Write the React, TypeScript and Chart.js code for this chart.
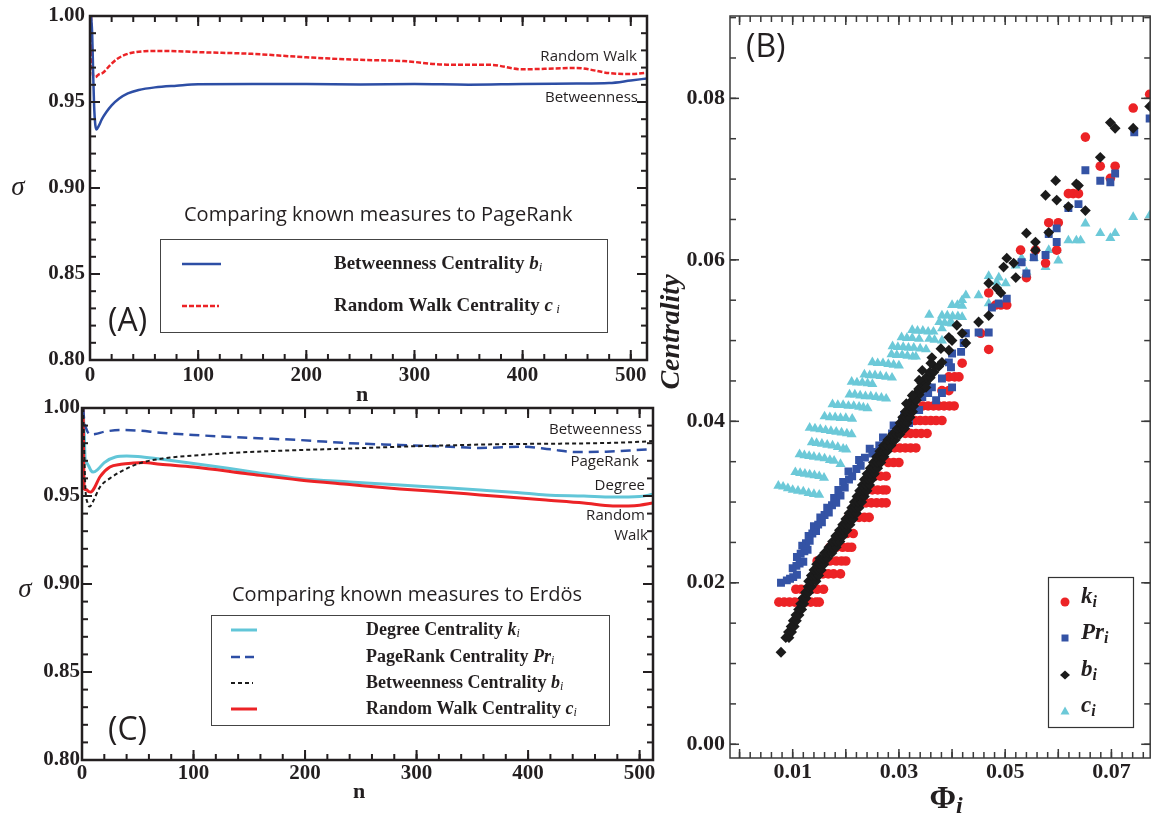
import React, { useEffect, useRef } from "react";
import { Chart, registerables } from "chart.js";
Chart.register(...registerables);

// ---------------- Panel A data (PageRank comparison) ----------------
const A_BTW_N = [1, 2, 3, 4, 6, 8, 11, 15, 20, 27, 35, 45, 60, 80, 100, 150, 200, 250, 300, 350, 400, 450, 480, 500, 515];
const A_BTW_S = [1.0, 0.99, 0.965, 0.945, 0.934, 0.936, 0.94, 0.944, 0.948, 0.952, 0.955, 0.957, 0.9585, 0.9595, 0.9603, 0.9604, 0.9604, 0.9602, 0.9604, 0.9601, 0.9605, 0.9607, 0.961, 0.9625, 0.9637];
const A_RW_N = [1, 2, 3, 5, 8, 12, 18, 25, 35, 50, 70, 100, 150, 200, 250, 290, 330, 370, 400, 430, 450, 480, 500, 515];
const A_RW_S = [1.0, 0.975, 0.965, 0.9645, 0.966, 0.967, 0.971, 0.975, 0.978, 0.9795, 0.9797, 0.979, 0.978, 0.976, 0.9745, 0.9738, 0.9717, 0.9716, 0.969, 0.9695, 0.9698, 0.9668, 0.9663, 0.967];

// ---------------- Panel C data (Erdös comparison) ----------------
const C_DEG_N = [1, 2, 3, 4, 6, 8, 10, 14, 20, 30, 40, 50, 70, 100, 150, 195, 240, 285, 330, 357, 390, 416, 450, 476, 500, 512];
const C_DEG_S = [1.0, 0.985, 0.9695, 0.969, 0.967, 0.9645, 0.9636, 0.965, 0.969, 0.9722, 0.9727, 0.9725, 0.971, 0.9685, 0.964, 0.96, 0.958, 0.9562, 0.9545, 0.9534, 0.952, 0.9506, 0.95, 0.9494, 0.9497, 0.951];
const C_PR_N = [1, 2, 4, 7, 12, 20, 34, 50, 70, 100, 150, 195, 240, 285, 330, 357, 395, 420, 443, 470, 495, 512];
const C_PR_S = [1.0, 0.993, 0.988, 0.985, 0.9852, 0.9865, 0.9875, 0.9872, 0.986, 0.9847, 0.983, 0.9818, 0.98, 0.979, 0.978, 0.9773, 0.978, 0.9765, 0.975, 0.9752, 0.976, 0.9767];
const C_BTW_N = [1, 2, 3, 5, 7, 10, 16, 25, 34, 52, 75, 106, 150, 195, 240, 285, 330, 380, 420, 460, 490, 512];
const C_BTW_S = [1.0, 0.975, 0.955, 0.946, 0.944, 0.947, 0.955, 0.96, 0.9636, 0.9687, 0.9715, 0.9733, 0.975, 0.9761, 0.977, 0.978, 0.9788, 0.9795, 0.9797, 0.98, 0.9805, 0.9812];
const C_RW_N = [1, 2, 4, 6, 8, 11, 16, 25, 35, 46, 55, 70, 100, 150, 195, 240, 285, 330, 357, 390, 416, 450, 476, 500, 512];
const C_RW_S = [1.0, 0.954, 0.9535, 0.9525, 0.9523, 0.9545, 0.9608, 0.9665, 0.968, 0.9687, 0.969, 0.968, 0.9665, 0.9625, 0.9591, 0.9565, 0.954, 0.952, 0.9506, 0.949, 0.9477, 0.946, 0.9443, 0.9448, 0.946];

// ---------------- Panel B data (Phi_i vs centrality) ----------------
const K_PTS: number[][] = [
  [0.0074, 0.0176], [0.0084, 0.0176], [0.0094, 0.0176], [0.0104, 0.0176], [0.0114, 0.0176], [0.0124, 0.0176], [0.0134, 0.0176], [0.0144, 0.0176], [0.015, 0.0176],
  [0.0106, 0.0192], [0.0116, 0.0192], [0.0126, 0.0192], [0.0136, 0.0192], [0.0146, 0.0192], [0.0158, 0.0192],
  [0.0157, 0.0211], [0.0167, 0.0211], [0.0177, 0.0211], [0.019, 0.0211],
  [0.0146, 0.0227], [0.0158, 0.0227], [0.017, 0.0227], [0.0182, 0.0227], [0.0192, 0.0227], [0.02, 0.0227],
  [0.017, 0.0244], [0.0182, 0.0244], [0.0194, 0.0244], [0.0204, 0.0244], [0.0211, 0.0244],
  [0.019, 0.0261], [0.0202, 0.0261], [0.0214, 0.0261],
  [0.0205, 0.0281], [0.0215, 0.0281], [0.0225, 0.0281], [0.0235, 0.0281], [0.0244, 0.0281],
  [0.0228, 0.0299], [0.0238, 0.0299], [0.0248, 0.0299], [0.0258, 0.0299], [0.0268, 0.0299], [0.0276, 0.0299],
  [0.024, 0.0315], [0.025, 0.0315], [0.026, 0.0315], [0.027, 0.0315], [0.0276, 0.0315],
  [0.0255, 0.0332], [0.0265, 0.0332], [0.0276, 0.0332],
  [0.028, 0.0349], [0.029, 0.0349], [0.03, 0.0349],
  [0.0282, 0.0367], [0.0292, 0.0367], [0.0302, 0.0367], [0.0312, 0.0367], [0.0322, 0.0367], [0.0332, 0.0367],
  [0.0312, 0.0385], [0.0322, 0.0385], [0.0332, 0.0385], [0.0342, 0.0385], [0.0353, 0.0385],
  [0.033, 0.0401], [0.034, 0.0401], [0.035, 0.0401], [0.036, 0.0401], [0.037, 0.0401], [0.0381, 0.0401],
  [0.0345, 0.0419], [0.0355, 0.0419], [0.0365, 0.0419], [0.0375, 0.0419], [0.0385, 0.0419], [0.0395, 0.0419], [0.0404, 0.0419],
  [0.0381, 0.0438], [0.0394, 0.0438], [0.0394, 0.0455], [0.0405, 0.0455], [0.0413, 0.0455], [0.0419, 0.0472],
  [0.0469, 0.0489], [0.0454, 0.0509], [0.0482, 0.0544], [0.0492, 0.0544], [0.0503, 0.0544], [0.0469, 0.0559],
  [0.054, 0.0578], [0.0576, 0.0596], [0.0529, 0.0612], [0.0557, 0.0612], [0.0597, 0.0612],
  [0.0582, 0.0646], [0.06, 0.0646], [0.0619, 0.0682], [0.0628, 0.0682], [0.0638, 0.0682],
  [0.0679, 0.0716], [0.0707, 0.0716], [0.0698, 0.0701], [0.0651, 0.0752], [0.0741, 0.0788], [0.0772, 0.0805],
];
const PR_PTS: number[][] = [
  [0.0078, 0.02], [0.0089, 0.0203], [0.0095, 0.0205], [0.0101, 0.0207], [0.0108, 0.021],
  [0.01, 0.0218], [0.0107, 0.0221], [0.0113, 0.0224], [0.012, 0.0226],
  [0.0108, 0.0232], [0.0115, 0.0236], [0.0122, 0.0239], [0.0128, 0.0241],
  [0.0118, 0.0246], [0.0125, 0.0249], [0.0132, 0.0252], [0.013, 0.0258], [0.0137, 0.0261], [0.0144, 0.0264],
  [0.014, 0.027], [0.0148, 0.0272], [0.0155, 0.0275], [0.0152, 0.0281], [0.016, 0.0284], [0.0168, 0.0287],
  [0.0165, 0.0293], [0.0174, 0.0296], [0.0182, 0.0299], [0.0178, 0.0305], [0.019, 0.0308],
  [0.0186, 0.0315], [0.0198, 0.0318], [0.0195, 0.0325], [0.0206, 0.0328], [0.0212, 0.0332],
  [0.0205, 0.0338], [0.022, 0.0341], [0.0228, 0.0345], [0.0225, 0.0352], [0.0236, 0.0355],
  [0.025, 0.036], [0.0258, 0.0362], [0.0245, 0.0366], [0.0263, 0.037], [0.0276, 0.0372],
  [0.027, 0.038], [0.0287, 0.0385], [0.03, 0.0388], [0.029, 0.0395], [0.0306, 0.04], [0.0319, 0.0398],
  [0.031, 0.0408], [0.0338, 0.0414], [0.0325, 0.042], [0.0344, 0.043], [0.037, 0.0426],
  [0.0355, 0.0435], [0.0381, 0.0435], [0.0362, 0.0442], [0.04, 0.0442], [0.0381, 0.0453],
  [0.0398, 0.0467], [0.0394, 0.0473], [0.04, 0.0484], [0.0417, 0.0486], [0.0422, 0.0497], [0.0426, 0.0509],
  [0.045, 0.051], [0.0469, 0.051], [0.0475, 0.0541], [0.0488, 0.0546], [0.0503, 0.0552],
  [0.0531, 0.0597], [0.054, 0.0583], [0.0554, 0.0603], [0.0576, 0.0606], [0.0597, 0.0622], [0.0597, 0.0639],
  [0.0582, 0.0632], [0.0619, 0.0664], [0.0638, 0.0669], [0.0651, 0.0711], [0.0679, 0.0698], [0.0698, 0.0696],
  [0.0707, 0.0707], [0.0743, 0.0758], [0.0772, 0.0775],
];
const B_PTS: number[][] = [
  [0.0078, 0.0114],
  [0.0087, 0.0132], [0.0093, 0.0132], [0.0092, 0.0139], [0.0098, 0.0139], [0.0097, 0.0146], [0.0103, 0.0146],
  [0.0101, 0.0153], [0.0107, 0.0153], [0.0106, 0.016], [0.0112, 0.016], [0.0111, 0.0167], [0.0117, 0.0167],
  [0.0115, 0.0174], [0.0121, 0.0174], [0.0119, 0.0181], [0.0125, 0.0181], [0.0124, 0.0188], [0.013, 0.0188],
  [0.0129, 0.0195], [0.0135, 0.0195],
  [0.013, 0.0202], [0.0137, 0.0202], [0.0144, 0.0202], [0.0135, 0.0209], [0.0142, 0.0209], [0.0149, 0.0209],
  [0.014, 0.0216], [0.0147, 0.0216], [0.0154, 0.0216], [0.0145, 0.0223], [0.0152, 0.0223], [0.0159, 0.0223],
  [0.0151, 0.023], [0.0158, 0.023], [0.0165, 0.023], [0.016, 0.0237], [0.0167, 0.0237], [0.0174, 0.0237],
  [0.0168, 0.0244], [0.0175, 0.0244], [0.0182, 0.0244], [0.0175, 0.0251], [0.0182, 0.0251], [0.0189, 0.0251],
  [0.0181, 0.0258], [0.0188, 0.0258], [0.0195, 0.0258], [0.0188, 0.0265], [0.0195, 0.0265], [0.0202, 0.0265],
  [0.0194, 0.0272], [0.0201, 0.0272], [0.0208, 0.0272], [0.02, 0.0279], [0.0207, 0.0279], [0.0214, 0.0279],
  [0.0206, 0.0286], [0.0213, 0.0286], [0.022, 0.0286], [0.0211, 0.0293], [0.0218, 0.0293], [0.0225, 0.0293],
  [0.0216, 0.03], [0.0223, 0.03], [0.023, 0.03], [0.0221, 0.0307], [0.0228, 0.0307], [0.0235, 0.0307],
  [0.0226, 0.0314], [0.0233, 0.0314], [0.024, 0.0314], [0.0231, 0.0321], [0.0238, 0.0321], [0.0245, 0.0321],
  [0.0235, 0.0328], [0.0242, 0.0328], [0.0249, 0.0328], [0.024, 0.0335], [0.0247, 0.0335], [0.0254, 0.0335],
  [0.0246, 0.0342], [0.0253, 0.0342], [0.026, 0.0342], [0.0252, 0.0349], [0.0259, 0.0349], [0.0266, 0.0349],
  [0.0258, 0.0356], [0.0265, 0.0356], [0.0272, 0.0356], [0.0264, 0.0363], [0.0271, 0.0363], [0.0278, 0.0363],
  [0.0271, 0.037], [0.0278, 0.037], [0.0285, 0.037], [0.0279, 0.0377], [0.0286, 0.0377], [0.0293, 0.0377],
  [0.0288, 0.0384], [0.0295, 0.0384], [0.0302, 0.0384], [0.0297, 0.0391], [0.0304, 0.0391], [0.0311, 0.0391],
  [0.0302, 0.0398], [0.0309, 0.0398], [0.0316, 0.0398], [0.0307, 0.0405], [0.0314, 0.0405], [0.0321, 0.0405],
  [0.0312, 0.0412], [0.0319, 0.0412], [0.0326, 0.0412], [0.032, 0.0419], [0.0328, 0.0419],
  [0.0325, 0.0426], [0.0333, 0.0426], [0.033, 0.0433], [0.0338, 0.0433], [0.0337, 0.044], [0.0345, 0.044],
  [0.0343, 0.0447], [0.0351, 0.0447], [0.0351, 0.0454], [0.0359, 0.0454], [0.0358, 0.0461], [0.0366, 0.0461],
  [0.0367, 0.0468], [0.0375, 0.0468],
  [0.0314, 0.0422], [0.0332, 0.0426], [0.0325, 0.0432], [0.0351, 0.0442], [0.0338, 0.0451], [0.0344, 0.0463],
  [0.036, 0.0472], [0.0362, 0.0479], [0.0381, 0.0473], [0.0379, 0.049], [0.0394, 0.0488], [0.0394, 0.0504],
  [0.0426, 0.0497], [0.0409, 0.0519], [0.0419, 0.0509], [0.04, 0.05], [0.045, 0.0523], [0.0469, 0.0531],
  [0.0469, 0.0571], [0.0484, 0.0565], [0.0492, 0.0559], [0.0497, 0.0591], [0.0503, 0.0602], [0.0516, 0.0596],
  [0.052, 0.0578], [0.054, 0.0633], [0.0557, 0.0622], [0.0557, 0.0612], [0.0582, 0.0634], [0.0576, 0.068],
  [0.0595, 0.0698], [0.0597, 0.0674], [0.0619, 0.0666], [0.0634, 0.0694], [0.0638, 0.0692], [0.0651, 0.0661],
  [0.0679, 0.0727], [0.0698, 0.077], [0.0707, 0.0763], [0.0741, 0.0763], [0.0772, 0.079],
];
const C_PTS: number[][] = [
  [0.0073, 0.032], [0.0082, 0.0319], [0.0091, 0.0317], [0.01, 0.0315], [0.011, 0.0314], [0.012, 0.0313], [0.013, 0.0311], [0.014, 0.031], [0.015, 0.0309],
  [0.0105, 0.0337], [0.0114, 0.0336], [0.0123, 0.0335], [0.0132, 0.0334], [0.0141, 0.0333], [0.015, 0.0332], [0.0159, 0.033],
  [0.0113, 0.0359], [0.0122, 0.0358], [0.0131, 0.0357], [0.014, 0.0356], [0.015, 0.0355], [0.016, 0.0354], [0.017, 0.0352], [0.0178, 0.0351], [0.019, 0.0347],
  [0.0136, 0.0374], [0.0145, 0.0373], [0.0155, 0.0372], [0.0165, 0.0371], [0.0175, 0.037], [0.0185, 0.0368], [0.0195, 0.0366], [0.0201, 0.0365],
  [0.0132, 0.0392], [0.0142, 0.0391], [0.0152, 0.039], [0.0162, 0.0389], [0.0172, 0.0388], [0.0182, 0.0387], [0.0192, 0.0386], [0.0202, 0.0385], [0.0211, 0.0384],
  [0.016, 0.0406], [0.017, 0.0405], [0.018, 0.0405], [0.019, 0.0404], [0.02, 0.0404], [0.0212, 0.0403],
  [0.0175, 0.0421], [0.0185, 0.042], [0.0195, 0.042], [0.0205, 0.0419], [0.0215, 0.0419], [0.0225, 0.0418], [0.0233, 0.0417], [0.0241, 0.0416],
  [0.0207, 0.0433], [0.0217, 0.0433], [0.0227, 0.0432], [0.0237, 0.0431], [0.0247, 0.0431], [0.0257, 0.043], [0.0267, 0.0429], [0.0276, 0.0428],
  [0.0211, 0.0449], [0.0221, 0.0448], [0.0231, 0.0448], [0.0241, 0.0447], [0.025, 0.0446],
  [0.0235, 0.0458], [0.0245, 0.0457], [0.0255, 0.0457], [0.0265, 0.0456], [0.0276, 0.0455], [0.0287, 0.0454],
  [0.025, 0.0473], [0.026, 0.0472], [0.027, 0.0472], [0.028, 0.0471], [0.029, 0.047], [0.03, 0.0469],
  [0.0286, 0.0483], [0.0296, 0.0482], [0.0306, 0.0482], [0.0316, 0.0481], [0.0326, 0.048], [0.0332, 0.048],
  [0.0288, 0.0493], [0.0298, 0.0492], [0.0308, 0.0492], [0.0318, 0.0491], [0.0328, 0.0491], [0.034, 0.049], [0.0351, 0.0489],
  [0.0305, 0.0504], [0.0315, 0.0503], [0.0325, 0.0503], [0.0338, 0.0502], [0.0357, 0.0502], [0.0367, 0.0501], [0.0381, 0.05],
  [0.0325, 0.0513], [0.0335, 0.0512], [0.0345, 0.0512], [0.0355, 0.0511], [0.0365, 0.0511], [0.0381, 0.0515],
  [0.0376, 0.0523], [0.0386, 0.0522], [0.0396, 0.0522], [0.04, 0.0521],
  [0.0357, 0.0532], [0.0381, 0.0531], [0.0391, 0.0531], [0.0401, 0.053], [0.0411, 0.053], [0.0419, 0.0529],
  [0.04, 0.0544], [0.041, 0.0544], [0.0419, 0.0543], [0.0426, 0.0556],
  [0.045, 0.0556], [0.0419, 0.055], [0.0469, 0.058], [0.0488, 0.0578], [0.0469, 0.0546], [0.0484, 0.0572],
  [0.0501, 0.0571], [0.054, 0.0585], [0.052, 0.0593], [0.0531, 0.0602], [0.0554, 0.0602], [0.0576, 0.0591],
  [0.0582, 0.0612], [0.0597, 0.0612], [0.06, 0.0599], [0.0619, 0.0624], [0.0634, 0.0624], [0.0642, 0.0624],
  [0.0651, 0.0645], [0.0679, 0.0633], [0.0698, 0.0627], [0.0707, 0.0633], [0.0741, 0.0653], [0.0772, 0.0655],
];

// tick labels
const SIGMA_LABELS = [0.8, 0.85, 0.9, 0.95, 1.0];
const N_LABELS = [0, 100, 200, 300, 400, 500];
const PHI_LABELS = [0.01, 0.03, 0.05, 0.07];
const CENT_LABELS = [0.0, 0.02, 0.04, 0.06, 0.08];

const SERIF = '"Liberation Serif", "Times New Roman", serif';
const SANS = '"Open Sans", "Noto Sans", sans-serif';
const BLUE = "#2d4ea5";
const RED = "#ec2326";
const CYAN = "#62c6d8";
const BLACK = "#1b1b1b";
const INK = "#231f20";

const zip = (xs: number[], ys: number[]) => xs.map((x, i) => ({ x, y: ys[i] }));
const pairs = (p: number[][]) => p.map(([x, y]) => ({ x, y }));
const range = (a: number, b: number, s: number) => {
  const out: number[] = [];
  const n = Math.round((b - a) / s);
  for (let i = 0; i <= n; i++) out.push(+(a + i * s).toFixed(6));
  return out;
};

function axis(min: number, max: number, labels: number[], fmt: (v: number) => string, size: number, pad: number, fit: number, isX: boolean) {
  return {
    type: "linear",
    min,
    max,
    grid: { display: false, drawTicks: false },
    border: { display: false },
    ticks: {
      font: { family: SERIF, size, weight: "bold" },
      color: INK,
      padding: pad,
      autoSkip: false,
      maxRotation: 0,
      minRotation: 0,
      callback: (v: any) => fmt(Number(v)),
    },
    afterBuildTicks: (s: any) => {
      s.ticks = labels.map((v) => ({ value: v }));
    },
    afterFit: (s: any) => {
      if (isX) s.height = fit;
      else s.width = fit;
      s.paddingLeft = 0;
      s.paddingRight = 0;
      s.paddingTop = 0;
      s.paddingBottom = 0;
    },
  };
}

type FrameOpts = {
  xMajor: number[]; xMinor: number[]; yMajor: number[]; yMinor: number[];
  majorLen: number; minorLen: number; color: string; width: number; tickWidth: number;
};
function framePlugin(o: FrameOpts) {
  return {
    id: "frameTicks",
    afterDraw(chart: any) {
      const ctx = chart.ctx as CanvasRenderingContext2D;
      const a = chart.chartArea;
      const xs = chart.scales.x, ys = chart.scales.y;
      ctx.save();
      ctx.setLineDash([]);
      ctx.fillStyle = o.color;
      const tw = o.tickWidth;
      const doX = (vals: number[], len: number) => {
        for (const v of vals) {
          const p = xs.getPixelForValue(v);
          ctx.fillRect(p - tw / 2, a.bottom - len, tw, len);
          ctx.fillRect(p - tw / 2, a.top, tw, len);
        }
      };
      const doY = (vals: number[], len: number) => {
        for (const v of vals) {
          const p = ys.getPixelForValue(v);
          ctx.fillRect(a.left, p - tw / 2, len, tw);
          ctx.fillRect(a.right - len, p - tw / 2, len, tw);
        }
      };
      doX(o.xMinor, o.minorLen); doX(o.xMajor, o.majorLen);
      doY(o.yMinor, o.minorLen); doY(o.yMajor, o.majorLen);
      ctx.strokeStyle = o.color;
      ctx.lineWidth = o.width;
      ctx.strokeRect(a.left, a.top, a.width, a.height);
      ctx.restore();
    },
  };
}

type Part = { t: string; f: string; dy?: number };
function rich(ctx: CanvasRenderingContext2D, x: number, y: number, parts: Part[], align: "left" | "right" | "center" = "left") {
  let w = 0;
  for (const p of parts) { ctx.font = p.f; w += ctx.measureText(p.t).width; }
  let cx = align === "left" ? x : align === "right" ? x - w : x - w / 2;
  ctx.textAlign = "left";
  ctx.textBaseline = "middle";
  for (const p of parts) {
    ctx.font = p.f;
    ctx.fillText(p.t, cx, y + (p.dy || 0));
    cx += ctx.measureText(p.t).width;
  }
}

function annot(ox: number, oy: number, draw: (ctx: CanvasRenderingContext2D) => void) {
  return {
    id: "annotText",
    afterDraw(chart: any) {
      const ctx = chart.ctx as CanvasRenderingContext2D;
      ctx.save();
      ctx.translate(-ox, -oy);
      ctx.fillStyle = INK;
      draw(ctx);
      ctx.restore();
    },
  };
}

function seg(ctx: CanvasRenderingContext2D, x1: number, x2: number, y: number, color: string, w: number, dash: number[]) {
  ctx.save();
  ctx.strokeStyle = color; ctx.lineWidth = w; ctx.setLineDash(dash);
  ctx.beginPath(); ctx.moveTo(x1, y); ctx.lineTo(x2, y); ctx.stroke();
  ctx.restore();
}

const bold = (s: number) => `bold ${s}px ${SERIF}`;
const boldIt = (s: number) => `italic bold ${s}px ${SERIF}`;
const it = (s: number) => `italic ${s}px ${SERIF}`;
const sans = (s: number) => `${s}px ${SANS}`;

const lineDs = (data: any[], color: string, w: number, dash: number[]) => ({
  data, borderColor: color, borderWidth: w, borderDash: dash, pointRadius: 0,
  cubicInterpolationMode: "monotone", fill: false,
});

const sigmaFrame = () => framePlugin({
  xMajor: N_LABELS, xMinor: range(20, 500, 20), yMajor: SIGMA_LABELS, yMinor: range(0.8, 1.0, 0.01),
  majorLen: 10, minorLen: 6, color: INK, width: 2.5, tickWidth: 2,
});

function cfgA() {
  return {
    type: "line",
    data: { datasets: [
      lineDs(zip(A_BTW_N, A_BTW_S), BLUE, 2.5, []),
      lineDs(zip(A_RW_N, A_RW_S), RED, 2.5, [5, 2]),
    ] },
    options: {
      responsive: false, animation: false, events: [],
      layout: { padding: { top: 16, right: 13, left: 0, bottom: 0 } },
      plugins: { legend: { display: false }, tooltip: { enabled: false } },
      scales: {
        x: axis(0, 515, N_LABELS, (v) => String(v), 21, 3, 45, true),
        y: axis(0.8, 1.0, SIGMA_LABELS, (v) => v.toFixed(2), 21, 5, 90, false),
      },
    },
    plugins: [sigmaFrame(), annot(0, 0, (ctx) => {
      rich(ctx, 637, 57, [{ t: "Random Walk", f: sans(15) }], "right");
      rich(ctx, 638, 98, [{ t: "Betweenness", f: sans(15) }], "right");
      rich(ctx, 184, 215, [{ t: "Comparing known measures to PageRank", f: sans(20) }]);
      ctx.save(); ctx.strokeStyle = "#444"; ctx.lineWidth = 1; ctx.strokeRect(160.5, 239.5, 447, 93); ctx.restore();
      seg(ctx, 182, 221, 264, BLUE, 2.5, []);
      seg(ctx, 182, 219, 306, RED, 2.5, [5, 2]);
      rich(ctx, 334, 264, [{ t: "Betweenness Centrality ", f: bold(19) }, { t: "b", f: boldIt(19) }, { t: "i", f: it(13), dy: 4 }]);
      rich(ctx, 334, 306, [{ t: "Random Walk Centrality ", f: bold(19) }, { t: "c", f: boldIt(19) }, { t: " i", f: it(13), dy: 4 }]);
      rich(ctx, 108, 322, [{ t: "(A)", f: sans(32) }]);
      rich(ctx, 18, 188, [{ t: "σ", f: it(27) }], "center");
      rich(ctx, 362, 395, [{ t: "n", f: bold(22) }], "center");
    })],
  };
}

// Panel C canvas starts at page y = 385
function cfgC() {
  return {
    type: "line",
    data: { datasets: [
      lineDs(zip(C_BTW_N, C_BTW_S), BLACK, 2, [4, 3]),
      lineDs(zip(C_PR_N, C_PR_S), BLUE, 2.5, [10, 6]),
      lineDs(zip(C_RW_N, C_RW_S), RED, 3, []),
      lineDs(zip(C_DEG_N, C_DEG_S), CYAN, 3, []),
    ] },
    options: {
      responsive: false, animation: false, events: [],
      layout: { padding: { top: 23, right: 7, left: 0, bottom: 0 } },
      plugins: { legend: { display: false }, tooltip: { enabled: false } },
      scales: {
        x: axis(0, 512, N_LABELS, (v) => String(v), 21, 1, 59, true),
        y: axis(0.8, 1.0, SIGMA_LABELS, (v) => v.toFixed(2), 21, 2, 82, false),
      },
    },
    plugins: [sigmaFrame(), annot(0, 385, (ctx) => {
      rich(ctx, 642, 430, [{ t: "Betweenness", f: sans(15) }], "right");
      rich(ctx, 639, 462, [{ t: "PageRank", f: sans(15) }], "right");
      rich(ctx, 645, 486, [{ t: "Degree", f: sans(15) }], "right");
      rich(ctx, 645, 516, [{ t: "Random", f: sans(15) }], "right");
      rich(ctx, 648, 536, [{ t: "Walk", f: sans(15) }], "right");
      rich(ctx, 232, 595, [{ t: "Comparing known measures to Erdös", f: sans(20) }]);
      ctx.save(); ctx.strokeStyle = "#444"; ctx.lineWidth = 1; ctx.strokeRect(211.5, 615.5, 398, 110); ctx.restore();
      seg(ctx, 231, 257, 630, CYAN, 3, []);
      seg(ctx, 231, 254, 657, BLUE, 2.5, [9, 5]);
      seg(ctx, 231, 253, 683, BLACK, 2, [4, 3]);
      seg(ctx, 231, 257, 709, RED, 3, []);
      rich(ctx, 366, 630, [{ t: "Degree Centrality ", f: bold(18) }, { t: "k", f: boldIt(18) }, { t: "i", f: it(12), dy: 4 }]);
      rich(ctx, 366, 657, [{ t: "PageRank Centrality ", f: bold(18) }, { t: "Pr", f: boldIt(18) }, { t: "i", f: it(12), dy: 4 }]);
      rich(ctx, 366, 683, [{ t: "Betweenness Centrality ", f: bold(18) }, { t: "b", f: boldIt(18) }, { t: "i", f: it(12), dy: 4 }]);
      rich(ctx, 366, 709, [{ t: "Random Walk Centrality ", f: bold(18) }, { t: "c", f: boldIt(18) }, { t: "i", f: it(12), dy: 4 }]);
      rich(ctx, 108, 731, [{ t: "(C)", f: sans(32) }]);
      rich(ctx, 25, 590, [{ t: "σ", f: it(27) }], "center");
      rich(ctx, 359, 792, [{ t: "n", f: bold(22) }], "center");
    })],
  };
}

function marker(ctx: CanvasRenderingContext2D, kind: string, x: number, y: number, color: string) {
  ctx.save();
  ctx.fillStyle = color;
  ctx.beginPath();
  if (kind === "circle") ctx.arc(x, y, 4.5, 0, Math.PI * 2);
  else if (kind === "rect") ctx.rect(x - 3.5, y - 3.5, 7, 7);
  else if (kind === "diamond") { ctx.moveTo(x, y - 4.5); ctx.lineTo(x + 5, y); ctx.lineTo(x, y + 4.5); ctx.lineTo(x - 5, y); ctx.closePath(); }
  else { ctx.moveTo(x, y - 4.5); ctx.lineTo(x + 4.5, y + 3.5); ctx.lineTo(x - 4.5, y + 3.5); ctx.closePath(); }
  ctx.fill();
  ctx.restore();
}

function cfgB() {
  const sc = (data: number[][], color: string, style: string, r: number, order: number) => ({
    data: pairs(data), backgroundColor: color, borderColor: color, borderWidth: 0,
    pointStyle: style, pointRadius: r, order,
  });
  return {
    type: "scatter",
    data: { datasets: [
      sc(K_PTS, RED, "circle", 4.8, 3),
      sc(PR_PTS, "#3453a5", "rect", 5.6, 2),
      sc(B_PTS, BLACK, "rectRot", 5.4, 1),
      sc(C_PTS, "#6cc9d8", "triangle", 5.8, 4),
    ] },
    options: {
      responsive: false, animation: false, events: [],
      layout: { padding: { top: 16, right: 4, left: 0, bottom: 0 } },
      plugins: { legend: { display: false }, tooltip: { enabled: false } },
      scales: {
        x: axis(-0.0018, 0.0773, PHI_LABELS, (v) => v.toFixed(2), 22, 1, 61, true),
        y: axis(-0.0017, 0.0902, CENT_LABELS, (v) => v.toFixed(2), 22, 5, 70, false),
      },
    },
    plugins: [framePlugin({
      xMajor: range(0, 0.07, 0.01), xMinor: range(0, 0.076, 0.002),
      yMajor: CENT_LABELS, yMinor: range(0, 0.09, 0.005),
      majorLen: 9, minorLen: 6, color: "#3a3a3a", width: 1.5, tickWidth: 1.5,
    }), annot(660, 0, (ctx) => {
      rich(ctx, 746, 48, [{ t: "(B)", f: sans(32) }]);
      ctx.save();
      ctx.translate(672, 332);
      ctx.rotate(-Math.PI / 2);
      rich(ctx, 0, 0, [{ t: "Centrality", f: boldIt(28) }], "center");
      ctx.restore();
      rich(ctx, 946, 800, [{ t: "Φ", f: bold(32) }, { t: "i", f: boldIt(24), dy: 7 }], "center");
      ctx.save(); ctx.strokeStyle = "#333"; ctx.lineWidth = 1.2; ctx.strokeRect(1048.5, 577.5, 85, 150); ctx.restore();
      marker(ctx, "circle", 1065, 602, RED);
      marker(ctx, "rect", 1065, 638, "#3453a5");
      marker(ctx, "diamond", 1065, 675, BLACK);
      marker(ctx, "triangle", 1065, 711, "#6cc9d8");
      rich(ctx, 1081, 597, [{ t: "k", f: boldIt(23) }, { t: "i", f: boldIt(16), dy: 6 }]);
      rich(ctx, 1081, 633, [{ t: "Pr", f: boldIt(23) }, { t: "i", f: boldIt(16), dy: 6 }]);
      rich(ctx, 1081, 670, [{ t: "b", f: boldIt(23) }, { t: "i", f: boldIt(16), dy: 6 }]);
      rich(ctx, 1081, 706, [{ t: "c", f: boldIt(23) }, { t: "i", f: boldIt(16), dy: 6 }]);
    })],
  };
}

function ChartBox(props: { make: () => any; left: number; top: number; width: number; height: number }) {
  const ref = useRef<HTMLCanvasElement>(null);
  useEffect(() => {
    const chart = new Chart(ref.current as HTMLCanvasElement, props.make());
    return () => chart.destroy();
  }, []);
  const { left, top, width, height } = props;
  return (
    <canvas ref={ref} width={width} height={height}
      style={{ position: "absolute", left, top, width, height, display: "block" }} />
  );
}

export default function App() {
  return (
    <div style={{ position: "absolute", left: 0, top: 0, width: 1156, height: 819, background: "#fff", overflow: "hidden" }}>
      <ChartBox make={cfgA} left={0} top={0} width={660} height={405} />
      <ChartBox make={cfgC} left={0} top={385} width={660} height={434} />
      <ChartBox make={cfgB} left={660} top={0} width={496} height={819} />
    </div>
  );
}
